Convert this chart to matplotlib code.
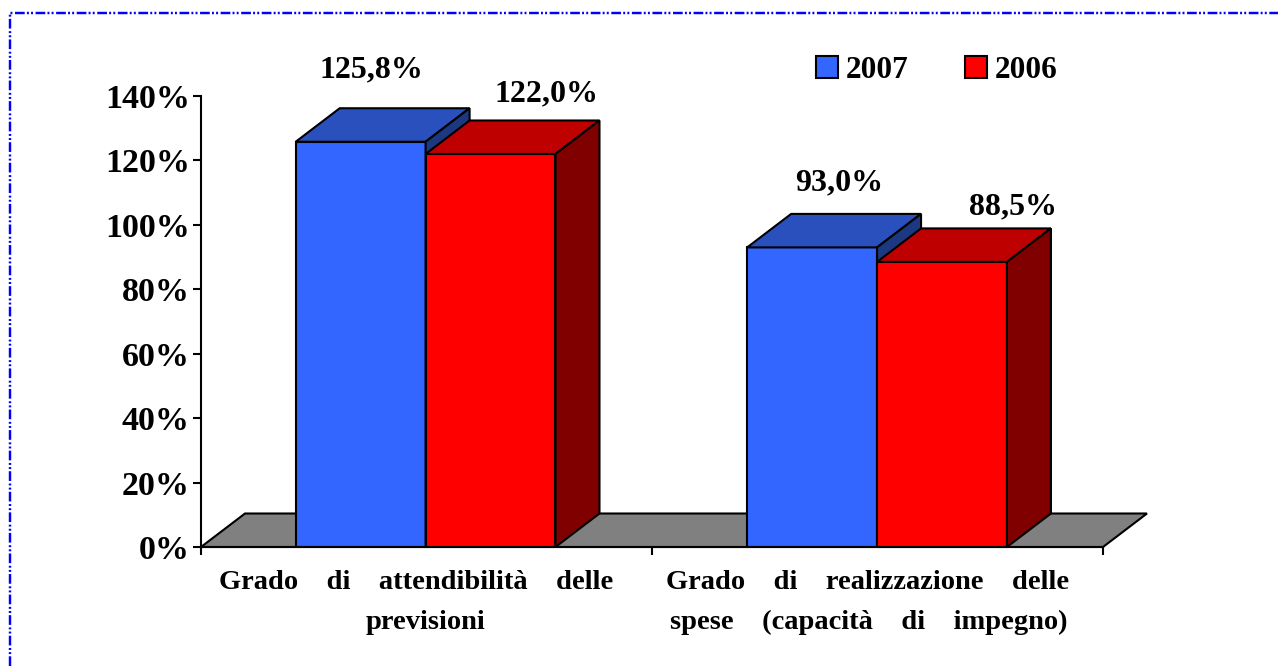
# Grafico a barre 3D: attendibilita' previsioni e realizzazione spese
import matplotlib
matplotlib.use('Agg')
import matplotlib.pyplot as plt
from matplotlib.lines import Line2D
from matplotlib.patches import Polygon, Patch

plt.rcParams['font.family'] = ['Liberation Serif', 'DejaVu Serif']
plt.rcParams['font.weight'] = 'bold'

categorie = [['Grado    di    attendibilità    delle', 'previsioni'],
             ['Grado    di    realizzazione    delle', 'spese    (capacità    di    impegno)']]
valori_2007 = [125.8, 93.0]
valori_2006 = [122.0, 88.5]
etichette_2007 = ['125,8%', '93,0%']
etichette_2006 = ['122,0%', '88,5%']
tick_y = [0, 20, 40, 60, 80, 100, 120, 140]

W, H = 1278, 666
fig = plt.figure(figsize=(W / 100, H / 100), dpi=100)
# assi in pixel: x 201-1103, y 96-547
ax = fig.add_axes([201 / W, 1 - 547 / H, 902 / W, 451 / H])
ax.set_xlim(0, 2)
ax.set_ylim(0, 140)

# profondita' del 3D in unita' dati
dx = 44 / 451.0
dy = 33.5 * 140 / 451.0
larg = 0.288
lw = 1.5


def parallelepipedo(x0, val, front, top, side):
    ax.bar(x0, val, larg, align='edge', color=front, edgecolor='black',
           linewidth=lw, zorder=3)
    x1 = x0 + larg
    ax.add_patch(Polygon([(x0, val), (x0 + dx, val + dy), (x1 + dx, val + dy), (x1, val)],
                         fc=top, ec='black', lw=lw, zorder=3, clip_on=False))
    ax.add_patch(Polygon([(x1, val), (x1 + dx, val + dy), (x1 + dx, dy), (x1, 0)],
                         fc=side, ec='black', lw=lw, zorder=3, clip_on=False))


# pavimento grigio
ax.add_patch(Polygon([(0, 0), (dx, dy), (2 + dx, dy), (2, 0)], fc='#808080', ec='black',
                     lw=lw, zorder=1, clip_on=False))

centri = [0.498, 1.499]
offset_2007 = [(11, 72), (27, 65)]
offset_2006 = [(56, 60), (71, 55)]
for i, c in enumerate(centri):
    parallelepipedo(c - larg, valori_2007[i], '#3366FF', '#2A50BE', '#1C3880')
    parallelepipedo(c, valori_2006[i], '#FF0000', '#BF0000', '#800000')
    ax.annotate(etichette_2007[i], (c - larg / 2, valori_2007[i]),
                xytext=(offset_2007[i][0] * 0.72, offset_2007[i][1] * 0.72),
                textcoords='offset points', ha='center', va='center', fontsize=23,
                fontweight='bold', annotation_clip=False)
    ax.annotate(etichette_2006[i], (c + larg / 2, valori_2006[i]),
                xytext=(offset_2006[i][0] * 0.72, offset_2006[i][1] * 0.72),
                textcoords='offset points', ha='center', va='center', fontsize=23,
                fontweight='bold', annotation_clip=False)

for s in ['top', 'right']:
    ax.spines[s].set_visible(False)
ax.spines['left'].set_linewidth(lw)
ax.spines['bottom'].set_linewidth(lw)
ax.spines['bottom'].set_zorder(4)

ax.set_yticks(tick_y)
ax.set_yticklabels([str(t) + '%' for t in tick_y], fontsize=24.5, fontweight='bold')
ax.set_xticks([0, 1, 2])
ax.set_xticklabels([])
ax.tick_params(axis='both', width=lw, length=6, direction='out')
ax.tick_params(axis='y', pad=2)

# etichette categorie: due righe, la prima un po' spostata a sinistra
x_righe = [[0.478, 0.497], [1.478, 1.48]]
for i in range(2):
    for j in range(2):
        ax.text(x_righe[i][j], -10.9 - 12.4 * j, categorie[i][j], ha='center', va='center',
                fontsize=20.5, fontweight='bold', clip_on=False)

handles = [Patch(fc='#3366FF', ec='black', lw=lw, label='2007'),
           Patch(fc='#FF0000', ec='black', lw=lw, label='2006')]
fig.legend(handles=handles, ncol=2, loc='center', bbox_to_anchor=(937 / W, 1 - 70 / H),
           frameon=False, fontsize=22.5, handlelength=0.7, handleheight=0.7,
           handletextpad=0.25, columnspacing=1.8, borderpad=0, borderaxespad=0)

# cornice blu tratto-punto-punto
tratteggio = (0, (4, 0.9, 0.8, 0.9, 0.8, 1.06))
fig.add_artist(Line2D([10 / W, 10 / W, 1], [0, 1 - 13 / H, 1 - 13 / H], color='#0000FF',
                      lw=1.75, linestyle=tratteggio))

fig.savefig('out.png', dpi=100)
